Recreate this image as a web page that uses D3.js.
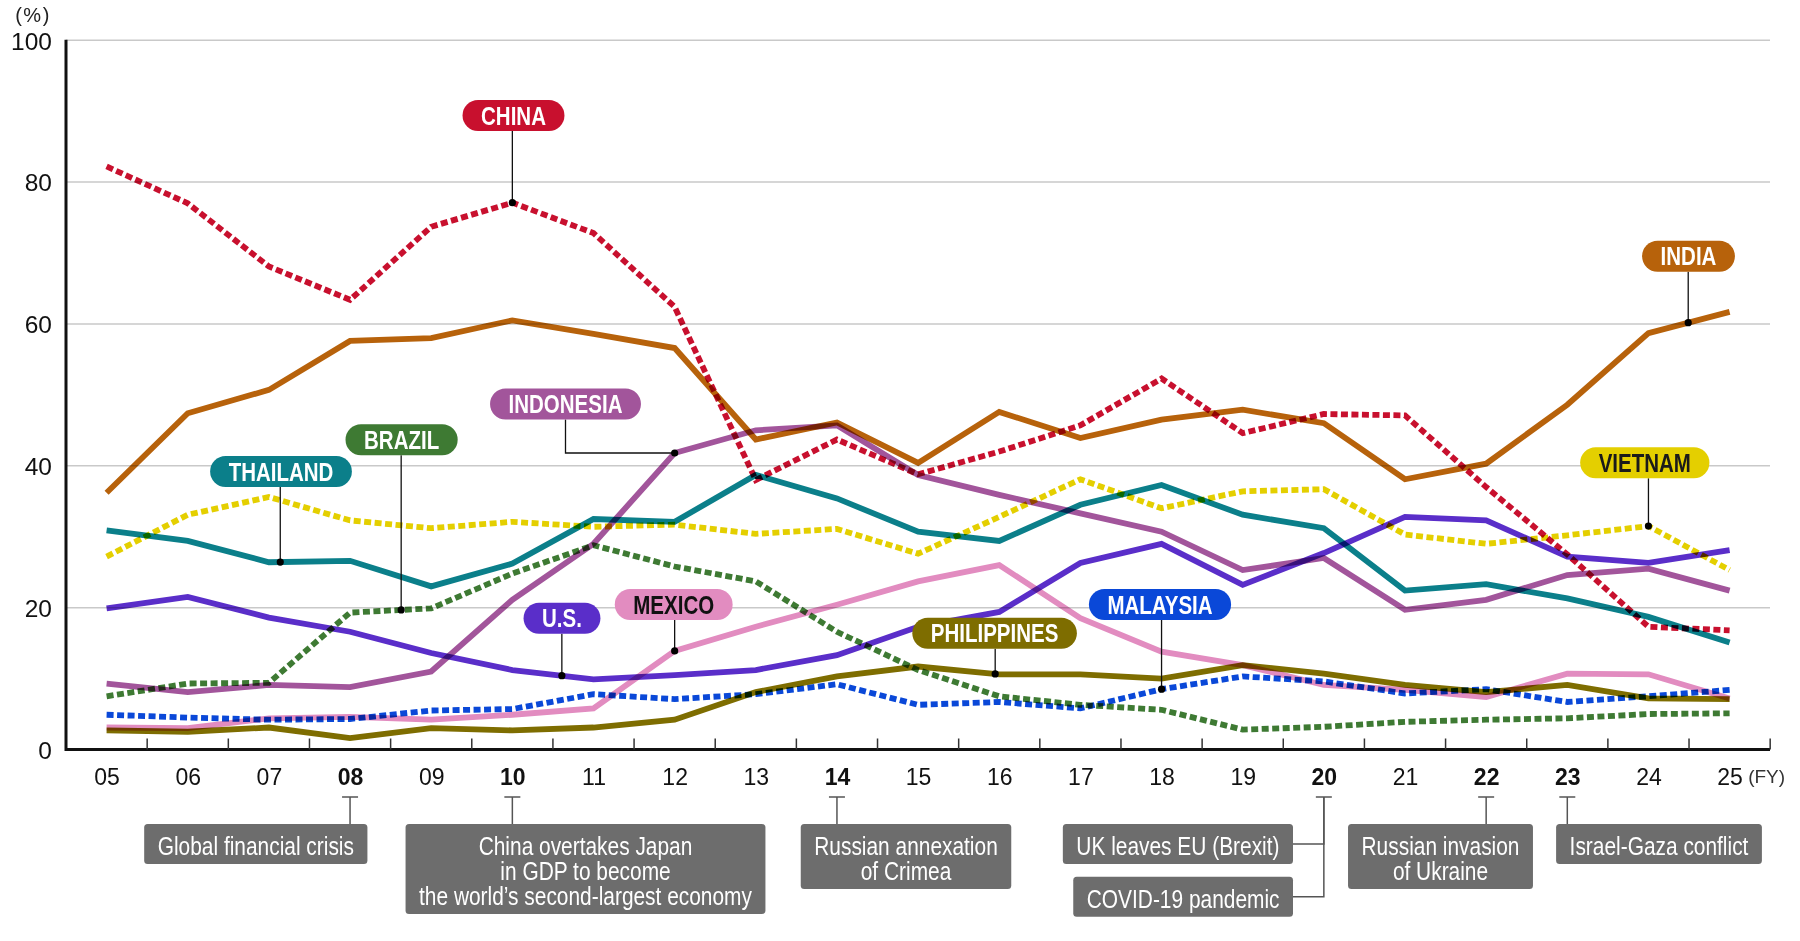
<!DOCTYPE html>
<html><head><meta charset="utf-8">
<script src="https://cdn.jsdelivr.net/npm/d3@7"></script>
<style>html,body{margin:0;padding:0;background:#fff;} svg{display:block;}</style>
</head><body>
<svg id="chart" width="1800" height="941"></svg>
<script>
// ---------- DATA ----------
const years = ["05","06","07","08","09","10","11","12","13","14","15","16","17","18","19","20","21","22","23","24","25"];
const boldYears = ["08","10","14","20","22","23"];
const yTicks = [0,20,40,60,80,100];

const china       = [82.2,77.0,68.1,63.4,73.7,77.1,72.8,62.4,38.0,43.7,38.8,42.0,45.7,52.3,44.6,47.3,47.1,37.0,27.5,17.3,16.8];
const india       = [36.2,47.4,50.7,57.6,58.0,60.5,58.6,56.6,43.7,46.1,40.4,47.6,43.9,46.5,47.9,46.0,38.1,40.3,48.6,58.7,61.7];
const indonesia   = [9.3,8.1,9.1,8.8,11.0,21.1,29.0,41.8,45.0,45.7,38.7,35.9,33.3,30.7,25.3,27.0,19.7,21.1,24.6,25.5,22.4];
const thailand    = [30.9,29.4,26.4,26.6,23.0,26.2,32.5,32.1,38.7,35.4,30.7,29.4,34.5,37.3,33.1,31.2,22.4,23.3,21.3,18.7,15.1];
const vietnam     = [27.2,33.1,35.6,32.3,31.2,32.1,31.4,31.7,30.4,31.1,27.6,32.8,38.1,34.0,36.4,36.7,30.3,29.0,30.2,31.5,25.3];
const brazil      = [7.5,9.3,9.4,19.3,19.9,24.8,28.8,25.8,23.7,16.6,11.2,7.5,6.3,5.6,2.8,3.2,3.9,4.2,4.4,5.0,5.1];
const us          = [19.9,21.5,18.6,16.6,13.6,11.2,9.9,10.5,11.2,13.3,17.3,19.4,26.3,29.0,23.2,27.7,32.8,32.3,27.2,26.3,28.1];
const mexico      = [3.1,3.0,4.4,4.6,4.2,4.9,5.8,13.9,17.3,20.4,23.7,26.0,18.5,13.8,11.9,9.1,8.4,7.4,10.7,10.6,7.2];
const philippines = [2.7,2.5,3.1,1.6,3.0,2.7,3.1,4.2,8.1,10.3,11.7,10.6,10.6,10.0,11.9,10.7,9.1,8.1,9.1,7.2,7.1];
const malaysia    = [4.9,4.5,4.2,4.3,5.5,5.7,7.8,7.1,7.8,9.2,6.3,6.7,5.8,8.5,10.3,9.6,7.9,8.5,6.7,7.5,8.4];

const seriesNames = ["BRAZIL","MALAYSIA","PHILIPPINES","MEXICO","U.S.","INDONESIA","THAILAND","VIETNAM","INDIA","CHINA"];
const seriesValues = [brazil, malaysia, philippines, mexico, us, indonesia, thailand, vietnam, india, china];

const eventYears = ["08","10","14","20","20","22","23"];
const eventTexts = [
  ["Global financial crisis"],
  ["China overtakes Japan","in GDP to become","the world\u2019s second-largest economy"],
  ["Russian annexation","of Crimea"],
  ["UK leaves EU (Brexit)"],
  ["COVID-19 pandemic"],
  ["Russian invasion","of Ukraine"],
  ["Israel-Gaza conflict"]
];

// ---------- STYLE / LAYOUT ----------
const style = {
  "CHINA":      {color:"#c8102e", dashed:true,  text:"#fff"},
  "INDIA":      {color:"#b7620b", dashed:false, text:"#fff"},
  "INDONESIA":  {color:"#a2559b", dashed:false, text:"#fff"},
  "THAILAND":   {color:"#0b7f8a", dashed:false, text:"#fff"},
  "VIETNAM":    {color:"#e4cf00", dashed:true,  text:"#1a1a1a"},
  "BRAZIL":     {color:"#3e7a33", dashed:true,  text:"#fff"},
  "U.S.":       {color:"#5a2ec9", dashed:false, text:"#fff"},
  "MEXICO":     {color:"#e28cc0", dashed:false, text:"#111"},
  "PHILIPPINES":{color:"#7e6d00", dashed:false, text:"#fff"},
  "MALAYSIA":   {color:"#0a48d8", dashed:true,  text:"#fff"}
};
// label anchor: fractional index along the series, pill centre x and top y
const labelLayout = {
  "CHINA":      {at:5,     cx:513.5, top:100},
  "INDIA":      {at:19.49, cx:1688.5,top:240.7},
  "INDONESIA":  {at:7,     cx:565.5, top:388.5, elbow:true},
  "BRAZIL":     {at:3.63,  cx:401.6, top:424.3},
  "THAILAND":   {at:2.14,  cx:281,   top:456},
  "U.S.":       {at:5.61,  cx:562,   top:602.7},
  "MEXICO":     {at:7,     cx:673.7, top:589},
  "PHILIPPINES":{at:10.95, cx:994.6, top:617.7},
  "MALAYSIA":   {at:13,    cx:1160,  top:589},
  "VIETNAM":    {at:19,    cx:1644.8,top:447.3}
};
const eventLayout = [
  {cx:255.8, top:824},
  {cx:585.5, top:824},
  {cx:906,   top:824},
  {right:1293, top:824, side:true},
  {right:1293, top:876.7, side:true},
  {cx:1440.5, top:824},
  {cx:1659,  top:824}
];

// ---------- FONTS ----------
function hasFont(name){
  const c=document.createElement('canvas').getContext('2d');
  const t='abcdefghijklmnopqrstuvwxyzABCDEFGHIJ0123456789';
  c.font='40px monospace'; const a=c.measureText(t).width;
  c.font='40px "'+name+'", monospace'; const b=c.measureText(t).width;
  return Math.abs(a-b)>0.5;
}
let COND = '"Liberation Sans Narrow"', SX = 1;
if(!hasFont('Liberation Sans Narrow')){ COND='"Liberation Sans", Arial, sans-serif'; SX=0.82; }
const REG = '"Liberation Sans", Arial, Helvetica, sans-serif';

// ---------- SCALES ----------
const svg = d3.select("#chart");
const left = 66, right = 1770;
const x = d3.scalePoint().domain(years).range([106.6, 1729.6]);
const step = x.step();
const y = d3.scaleLinear().domain([0,100]).range([749.5, 40.2]);

// gridlines
svg.append("g").selectAll("line").data(yTicks.filter(v=>v>0)).join("line")
  .attr("x1",left).attr("x2",right).attr("y1",d=>y(d)).attr("y2",d=>y(d))
  .attr("stroke","#c9c9c9").attr("stroke-width",1.5);

// y axis labels
const yAxis = svg.append("g").attr("transform",`translate(${left},0)`)
  .call(d3.axisLeft(y).tickValues(yTicks).tickSize(0).tickPadding(14).tickFormat(d3.format("d")));
yAxis.select(".domain").remove();
yAxis.selectAll("text").attr("font-family",REG).attr("font-size",24.5).attr("fill","#111").attr("dy","0.36em");

svg.append("text").attr("x",33).attr("y",22).attr("text-anchor","middle")
  .attr("font-family",REG).attr("font-size",20).attr("letter-spacing",1.5).attr("fill","#222").text("(%)");

// x axis labels
const xAxis = svg.append("g").attr("transform",`translate(0,${y(0)})`)
  .call(d3.axisBottom(x).tickSize(0).tickPadding(19));
xAxis.select(".domain").remove();
xAxis.selectAll("text").attr("font-family",REG).attr("font-size",23).attr("fill","#111")
  .attr("font-weight",d=>boldYears.includes(d)?"bold":"normal");
svg.append("text").attr("x",x("25")+step/2-22).attr("y",y(0)+33).attr("font-family",REG)
  .attr("font-size",19).attr("fill","#333").text("(FY)");

// ---------- LINES ----------
const line = d3.line().x((d,i)=>x(years[i])).y(d=>y(d));
const lg = svg.append("g");
seriesNames.forEach((n,k)=>{
  const s = style[n];
  lg.append("path").datum(seriesValues[k]).attr("d",line)
    .attr("fill","none").attr("stroke",s.color).attr("stroke-width",5.8)
    .attr("stroke-linejoin","miter")
    .attr("stroke-dasharray",s.dashed?"7,3.5":null)
    .style("mix-blend-mode","multiply");
});

// axes lines (drawn over the data)
svg.append("line").attr("x1",left).attr("x2",left).attr("y1",y(100)-0.5).attr("y2",y(0)+1.5)
  .attr("stroke","#111").attr("stroke-width",3);
svg.append("line").attr("x1",left).attr("x2",right).attr("y1",y(0)).attr("y2",y(0))
  .attr("stroke","#111").attr("stroke-width",3);
svg.append("g").selectAll("line").data(years).join("line")
  .attr("x1",d=>x(d)+step/2).attr("x2",d=>x(d)+step/2)
  .attr("y1",y(0)).attr("y2",y(0)-11).attr("stroke","#333").attr("stroke-width",1.5);

// ---------- LABEL PILLS ----------
function ctext(g, px, py, str, opts){
  const t = g.append("text").attr("transform",`translate(${px},${py}) scale(${SX},1)`)
    .attr("text-anchor",opts.anchor||"middle").attr("font-family",COND)
    .attr("font-size",opts.size).attr("font-weight",opts.weight||"normal")
    .attr("fill",opts.fill).text(str);
  return t;
}
const pg = svg.append("g");
seriesNames.forEach((n,k)=>{
  const L = labelLayout[n], s = style[n], vals = seriesValues[k];
  const i0 = Math.floor(L.at), f = L.at - i0;
  const v = f>0 ? vals[i0] + (vals[i0+1]-vals[i0])*f : vals[i0];
  const dx = x(years[i0]) + f*step, dy = y(v);
  const h = 31;
  if(L.elbow){
    pg.append("path").attr("d",`M${L.cx},${L.top+h}V${dy}H${dx}`).attr("fill","none")
      .attr("stroke","#111").attr("stroke-width",1.3);
  } else {
    pg.append("line").attr("x1",dx).attr("x2",dx).attr("y1",L.top+h).attr("y2",dy)
      .attr("stroke","#111").attr("stroke-width",1.3);
  }
  pg.append("circle").attr("cx",dx).attr("cy",dy).attr("r",3.6).attr("fill","#000");
  const gg = pg.append("g");
  const rect = gg.append("rect");
  const t = ctext(gg, L.cx, L.top+h/2+9, n, {size:25, weight:"bold", fill:s.text});
  const w = t.node().getComputedTextLength()*SX + 37;
  rect.attr("x",L.cx-w/2).attr("y",L.top).attr("width",w).attr("height",h)
    .attr("rx",h/2).attr("fill",s.color);
});

// ---------- EVENT BOXES ----------
const eg = svg.append("g");
const barY = 797;
[...new Set(eventYears)].forEach(yr=>{
  const cx = x(yr);
  eg.append("line").attr("x1",cx-8).attr("x2",cx+8).attr("y1",barY).attr("y2",barY)
    .attr("stroke","#555").attr("stroke-width",1.5);
});
eventYears.forEach((yr,i)=>{
  const L = eventLayout[i], lines = eventTexts[i];
  const cxTick = x(yr);
  const h = 15 + 25*lines.length;
  const g = eg.append("g");
  const rect = g.append("rect");
  const ts = lines.map(s=>ctext(g,0,0,s,{size:25.5, fill:"#fff"}));
  const tw = d3.max(ts, t=>t.node().getComputedTextLength()*SX);
  const w = tw + 27;
  const bx = L.side ? L.right - w : L.cx - w/2;
  const bcx = bx + w/2;
  rect.attr("x",bx).attr("y",L.top).attr("width",w).attr("height",h).attr("rx",3.5).attr("fill","#6d6d6d");
  ts.forEach((t,j)=>t.attr("transform",`translate(${bcx},${L.top+22+9.2+25*j}) scale(${SX},1)`));
  if(L.side){
    const my = L.top + h/2;
    eg.append("path").attr("d",`M${cxTick},${barY}V${my}H${bx+w}`).attr("fill","none")
      .attr("stroke","#555").attr("stroke-width",1.5);
  } else {
    eg.append("line").attr("x1",cxTick).attr("x2",cxTick).attr("y1",barY).attr("y2",L.top)
      .attr("stroke","#555").attr("stroke-width",1.5);
  }
});
</script>
</body></html>
